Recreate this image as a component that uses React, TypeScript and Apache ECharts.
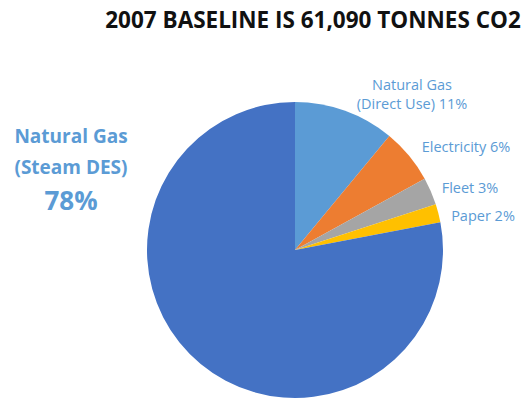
import React, { useEffect, useRef } from "react";
import * as echarts from "echarts";

const titleText = "2007 BASELINE IS 61,090 TONNES CO2";
const categories = [
  "Natural Gas\n(Direct Use)",
  "Electricity",
  "Fleet",
  "Paper",
  "Natural Gas\n(Steam DES)",
];
const values = [11, 6, 3, 2, 78];
const colors = ["#5B9BD5", "#ED7D31", "#A5A5A5", "#FFC000", "#4472C4"];
// label anchor positions (centre of label) in pixels
const labelPos = [
  [412, 94],
  [466, 146],
  [470, 187],
  [483, 215],
  [71, 169],
];

export default function App() {
  const ref = useRef<HTMLDivElement>(null);
  useEffect(() => {
    document.body.style.margin = "0";
    const chart = echarts.init(ref.current!, null, { renderer: "svg" });
    const font = "'Open Sans', 'Noto Sans', sans-serif";
    chart.setOption({
      animation: false,
      backgroundColor: "#ffffff",
      title: {
        text: titleText,
        left: 308,
        top: 3,
        textAlign: "center",
        textStyle: {
          fontFamily: font,
          fontSize: 22.5,
          fontWeight: "bold",
          color: "#111111",
        },
      },
      series: [
        {
          type: "pie",
          center: [295, 250],
          radius: 148,
          startAngle: 90,
          clockwise: true,
          avoidLabelOverlap: false,
          itemStyle: { borderWidth: 0 },
          label: {
            show: true,
            fontFamily: font,
            color: "#5B9BD5",
            fontSize: 14.5,
            lineHeight: 19,
            align: "center",
            formatter: (p: any) => {
              if (p.dataIndex === 4) {
                return "{a|" + p.name.replace("\n", "}\n{a|") + "}\n{b|" + p.value + "%}";
              }
              return p.name + " " + p.value + "%";
            },
            rich: {
              a: {
                fontFamily: font,
                fontSize: 19,
                fontWeight: "bold",
                color: "#5B9BD5",
                lineHeight: 31,
                align: "center",
              },
              b: {
                fontFamily: font,
                fontSize: 26,
                fontWeight: "bold",
                color: "#5B9BD5",
                lineHeight: 36,
                align: "center",
              },
            },
          },
          labelLine: { show: false },
          labelLayout: (params: any) => {
            const pos = labelPos[params.dataIndex];
            return {
              x: pos[0],
              y: pos[1],
              align: "center",
              verticalAlign: "middle",
              moveOverlap: null,
            };
          },
          data: categories.map((c, i) => ({
            name: c,
            value: values[i],
            itemStyle: { color: colors[i] },
          })),
        },
      ],
    });
    return () => chart.dispose();
  }, []);
  return <div ref={ref} style={{ width: 523, height: 401 }} />;
}
